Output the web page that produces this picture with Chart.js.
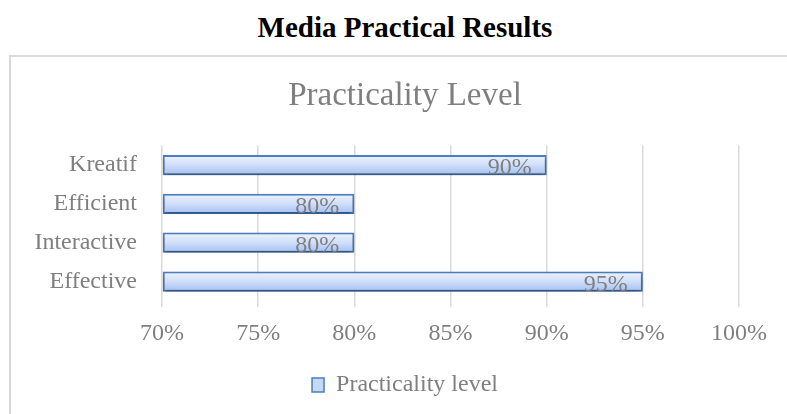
<!DOCTYPE html>
<html lang="en">
<head>
    <meta charset="UTF-8">
    <title>Media Practical Results</title>
    <script src="https://cdn.jsdelivr.net/npm/chart.js"></script>
    <style>
        body { margin: 0; overflow: hidden; background: #fff; }
        h1 {
            position: absolute; left: 0; top: 11px; width: 810px; margin: 0;
            text-align: center; font: bold 29px "Liberation Serif", serif; color: #000;
        }
        #box {
            position: absolute; left: 9px; top: 55px; width: 800px; height: 400px;
            border: 2px solid #d9d9d9; box-sizing: border-box;
        }
    </style>
</head>
<body>
    <h1>Media Practical Results</h1>
    <div id="box">
        <canvas id="practChart" width="788" height="357"></canvas>
    </div>

    <script>
        const categories = ['Kreatif', 'Efficient', 'Interactive', 'Effective'];
        const practicality = [90, 80, 80, 95];
        const xTicks = [70, 75, 80, 85, 90, 95, 100];

        const grey = '#7f7f7f';
        const serif = '"Liberation Serif", serif';

        // vertical gradient per bar, centred on the bar's category row
        function barFill(context) {
            const chart = context.chart;
            const yScale = chart.scales.y;
            if (!chart.chartArea || !yScale || context.dataIndex === undefined) return '#c6d9f7';
            const cy = yScale.getPixelForValue(context.dataIndex);
            const g = chart.ctx.createLinearGradient(0, cy - 10, 0, cy + 10);
            g.addColorStop(0, '#eef3fd');
            g.addColorStop(0.5, '#cfdef9');
            g.addColorStop(1, '#a3bff3');
            return g;
        }

        // value labels drawn at the inside end of each bar
        const valueLabels = {
            id: 'valueLabels',
            afterDatasetsDraw(chart) {
                const ctx = chart.ctx;
                const meta = chart.getDatasetMeta(0);
                ctx.save();
                ctx.font = '24px ' + serif;
                ctx.fillStyle = grey;
                ctx.textAlign = 'right';
                ctx.textBaseline = 'middle';
                meta.data.forEach((bar, i) => {
                    ctx.fillText(practicality[i] + '%', bar.x - 15, bar.y + 3);
                });
                ctx.restore();
            }
        };

        // soft shadow under bars
        const barShadow = {
            id: 'barShadow',
            beforeDatasetsDraw(chart) {
                chart.ctx.save();
                chart.ctx.shadowColor = 'rgba(0,0,0,0.35)';
                chart.ctx.shadowBlur = 4;
                chart.ctx.shadowOffsetY = 3;
            },
            afterDatasetsDraw(chart) {
                chart.ctx.restore();
            }
        };

        new Chart(document.getElementById('practChart'), {
            type: 'bar',
            data: {
                labels: categories,
                datasets: [{
                    label: 'Practicality level',
                    data: practicality,
                    base: 70,
                    backgroundColor: barFill,
                    borderColor: '#4a7ebf',
                    borderWidth: 2,
                    borderSkipped: false,
                    categoryPercentage: 1,
                    barPercentage: 0.52
                }]
            },
            options: {
                indexAxis: 'y',
                responsive: false,
                animation: false,
                layout: { padding: { left: 0, right: 0, top: 0, bottom: 7 } },
                plugins: {
                    title: {
                        display: true,
                        text: 'Practicality Level',
                        color: grey,
                        font: { family: serif, size: 33, weight: 'normal' },
                        padding: { top: 20, bottom: 29 }
                    },
                    legend: {
                        position: 'bottom',
                        labels: {
                            color: grey,
                            font: { family: serif, size: 24 },
                            boxWidth: 12,
                            boxHeight: 14,
                            padding: 10,
                            generateLabels() {
                                return [{
                                    text: 'Practicality level',
                                    fillStyle: '#c6d9f7',
                                    strokeStyle: '#4a7ebf',
                                    lineWidth: 1.5,
                                    fontColor: grey
                                }];
                            }
                        }
                    },
                    tooltip: { enabled: false }
                },
                scales: {
                    x: {
                        min: 70,
                        max: 100,
                        afterBuildTicks(axis) {
                            axis.ticks = xTicks.map(v => ({ value: v }));
                        },
                        afterFit(axis) { axis.height = 62; },
                        ticks: {
                            color: grey,
                            font: { family: serif, size: 24 },
                            padding: 12,
                            callback: v => v + '%'
                        },
                        grid: { color: '#d9d9d9', lineWidth: 1.5, drawTicks: true, tickLength: 6 },
                        border: { display: false }
                    },
                    y: {
                        afterFit(axis) { axis.width = 151; },
                        ticks: {
                            color: grey,
                            font: { family: serif, size: 24 },
                            padding: 17
                        },
                        grid: { display: false },
                        border: { display: false }
                    },
                    // empty right-hand axis that only reserves room past 100%
                    yRight: {
                        type: 'category',
                        axis: 'y',
                        position: 'right',
                        afterFit(axis) { axis.width = 60; },
                        ticks: { display: false },
                        grid: { display: false },
                        border: { display: false }
                    }
                }
            },
            plugins: [barShadow, valueLabels]
        });
    </script>
</body>
</html>
